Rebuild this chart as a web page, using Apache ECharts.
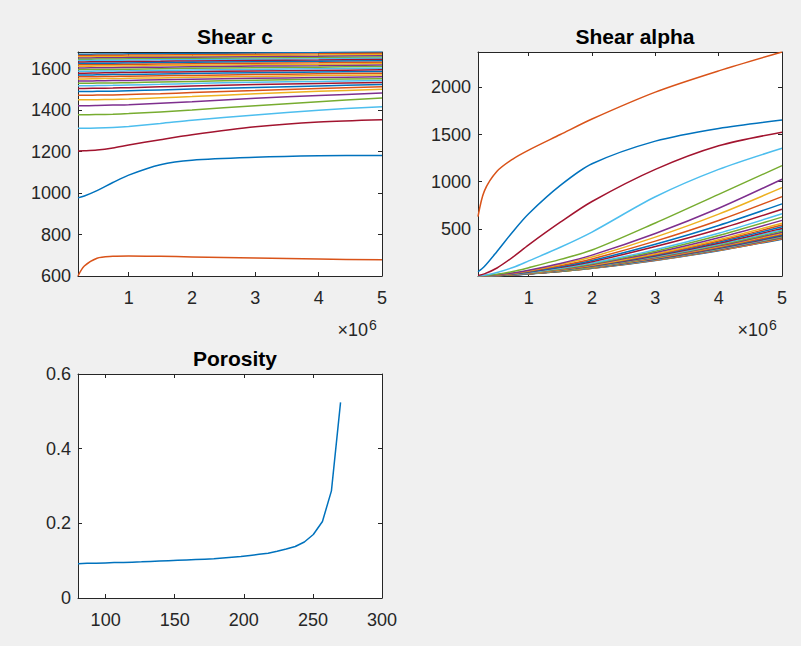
<!DOCTYPE html>
<html><head><meta charset="utf-8">
<script src="https://cdn.jsdelivr.net/npm/echarts@6/dist/echarts.min.js"></script>
<style>html,body{margin:0;padding:0;background:#f0f0f0;}#c{width:801px;height:646px;}</style>
</head><body><div id="c"></div>
<script>
const shearX = [200000, 300000, 500000, 750000, 1000000, 1500000, 2000000, 3000000, 4000000, 5000000];
const shearXTicks = [1000000, 2000000, 3000000, 4000000, 5000000];
const shearCTicks = [600, 800, 1000, 1200, 1400, 1600];
const shearAlphaTicks = [500, 1000, 1500, 2000];
const porosityXTicks = [100, 150, 200, 250, 300];
const porosityYTicks = [0, 0.2, 0.4, 0.6];

const shearC = [
  [1670,1670,1671,1671,1672,1673,1674,1676,1678,1681],
  [1664,1664,1665,1665,1666,1667,1668,1670,1672,1675],
  [1658,1658,1659,1659,1660,1661,1662,1664,1666,1669],
  [1652,1652,1653,1653,1654,1655,1656,1658,1660,1663],
  [1646,1646,1647,1647,1648,1649,1650,1652,1654,1657],
  [1640,1640,1641,1641,1642,1643,1644,1646,1648,1651],
  [1633,1633,1634,1634,1635,1636,1638,1640,1642,1645],
  [1626,1626,1627,1627,1628,1630,1631,1634,1636,1639],
  [1619,1619,1620,1620,1621,1623,1624,1627,1629,1632],
  [1612,1612,1613,1613,1614,1616,1617,1620,1622,1625],
  [1604,1604,1605,1605,1606,1608,1610,1613,1615,1618],
  [1596,1596,1597,1597,1598,1600,1602,1605,1608,1611],
  [1588,1588,1589,1589,1590,1592,1594,1597,1600,1603],
  [1579,1579,1580,1581,1582,1584,1586,1589,1592,1595],
  [1570,1570,1571,1572,1573,1575,1577,1581,1584,1587],
  [1561,1561,1562,1563,1564,1566,1568,1572,1576,1579],
  [1551,1551,1552,1553,1554,1556,1559,1563,1567,1570],
  [1541,1541,1542,1543,1544,1547,1550,1554,1558,1561],
  [1530,1530,1531,1532,1533,1536,1539,1545,1549,1552],
  [1518,1518,1519,1520,1522,1525,1529,1535,1539,1543],
  [1505,1505,1506,1507,1509,1513,1517,1524,1529,1534],
  [1490,1490,1491,1492,1494,1498,1502,1510,1517,1524],
  [1472,1472,1473,1474,1476,1480,1485,1495,1505,1513],
  [1450,1450,1451,1452,1454,1460,1466,1479,1491,1501],
  [1422,1422,1423,1425,1427,1434,1441,1458,1471,1483],
  [1378,1378,1379,1381,1384,1392,1401,1422,1441,1459],
  [1313,1313,1314,1317,1322,1336,1352,1377,1400,1417],
  [1203,1204,1208,1218,1232,1258,1282,1320,1343,1354],
  [977,986,1012,1051,1087,1137,1159,1173,1180,1182],
  [600,648,686,695,697,695,692,687,682,678]
];

const shearAlpha = [
  [0,1,5,12,22,48,81,165,268,390],
  [0,1,5,12,23,49,82,167,272,395],
  [0,1,5,12,23,50,83,169,275,400],
  [0,1,5,13,23,50,84,171,279,406],
  [0,1,5,13,24,51,86,174,284,413],
  [0,1,5,13,24,52,87,177,289,420],
  [0,1,5,13,24,53,89,180,294,427],
  [0,1,5,13,25,54,90,184,299,435],
  [0,1,5,14,25,55,92,187,305,444],
  [0,1,5,14,26,56,94,192,312,454],
  [0,1,6,14,27,58,97,196,320,465],
  [0,1,6,15,27,59,99,201,328,477],
  [0,1,6,15,28,61,102,207,337,490],
  [0,1,6,16,29,63,105,213,347,505],
  [0,1,6,16,30,65,109,220,359,522],
  [0,1,6,17,31,67,112,228,372,540],
  [0,1,7,17,32,69,116,236,385,560],
  [0,1,7,18,34,73,123,249,406,590],
  [0,1,7,19,36,77,130,263,429,624],
  [0,1,8,20,38,82,137,279,454,660],
  [0,1,8,23,42,92,152,312,496,708],
  [0,2,9,24,46,99,164,337,536,765],
  [0,2,10,27,51,109,181,370,589,842],
  [0,2,11,30,56,122,201,412,656,937],
  [0,2,12,33,62,133,221,451,718,1026],
  [0,4,18,47,88,176,275,562,866,1170],
  [0,8,38,90,160,305,466,840,1130,1354],
  [5,22,85,200,330,570,790,1130,1380,1524],
  [45,100,260,470,660,960,1190,1430,1565,1654],
  [630,900,1110,1240,1335,1500,1665,1950,2175,2375]
];

const porosityX = [80.0,86.6,93.1,99.7,106.2,112.8,119.3,125.9,132.4,139.0,145.5,152.1,158.6,165.2,171.7,178.3,184.8,191.4,197.9,204.5,211.0,217.6,224.1,230.7,237.2,243.8,250.3,256.9,263.4,270.0];
const porosity = [0.092,0.093,0.093,0.094,0.095,0.095,0.096,0.097,0.098,0.099,0.100,0.101,0.102,0.103,0.104,0.105,0.107,0.109,0.111,0.114,0.117,0.120,0.125,0.131,0.138,0.150,0.170,0.205,0.287,0.524];

const titles = ['Shear c', 'Shear alpha', 'Porosity'];
const colorOrder = ['#0072BD','#D95319','#EDB120','#7E2F8E','#77AC30','#4DBEEE','#A2142F'];

const FONT = '"Liberation Sans", Arial, Helvetica, sans-serif';
const INK = '#262626';

const grids = [
  {left: 78, top: 52, width: 304, height: 224},
  {left: 478, top: 52, width: 304, height: 224},
  {left: 78, top: 374, width: 304, height: 224}
];

function axisCommon() {
  return {
    axisLine: {show: true, onZero: false, lineStyle: {color: INK, width: 1}},
    splitLine: {show: false}
  };
}
function xAxes(gi, min, max, ticks, fmt) {
  return [
    Object.assign(axisCommon(), {
      type: 'value', gridIndex: gi, position: 'bottom', min: min, max: max,
      axisTick: {show: true, inside: true, length: 4, customValues: ticks, lineStyle: {color: INK}},
      axisLabel: {show: true, customValues: ticks, formatter: fmt, margin: 13, fontSize: 18, fontFamily: FONT, color: INK}
    }),
    Object.assign(axisCommon(), {
      type: 'value', gridIndex: gi, position: 'top', min: min, max: max,
      axisTick: {show: true, inside: true, length: 4, customValues: ticks, lineStyle: {color: INK}},
      axisLabel: {show: false}
    })
  ];
}
function yAxes(gi, min, max, ticks, fmt) {
  return [
    Object.assign(axisCommon(), {
      type: 'value', gridIndex: gi, position: 'left', min: min, max: max,
      axisTick: {show: true, inside: true, length: 4, customValues: ticks, lineStyle: {color: INK}},
      axisLabel: {show: true, customValues: ticks, formatter: fmt, margin: 7, fontSize: 18, fontFamily: FONT, color: INK}
    }),
    Object.assign(axisCommon(), {
      type: 'value', gridIndex: gi, position: 'right', min: min, max: max,
      axisTick: {show: true, inside: true, length: 4, customValues: ticks, lineStyle: {color: INK}},
      axisLabel: {show: false}
    })
  ];
}

const xAxis = [].concat(
  xAxes(0, 200000, 5000000, shearXTicks, v => String(v / 1000000)),
  xAxes(1, 200000, 5000000, shearXTicks, v => String(v / 1000000)),
  xAxes(2, 80, 300, porosityXTicks, v => String(v))
);
const yAxis = [].concat(
  yAxes(0, 600, 1681, shearCTicks, v => String(v)),
  yAxes(1, 0, 2375, shearAlphaTicks, v => String(v)),
  yAxes(2, 0, 0.6, porosityYTicks, v => (v === 0 ? '0' : v.toFixed(1)))
);

const series = [];
shearC.forEach((vals, i) => {
  series.push({
    type: 'line', xAxisIndex: 0, yAxisIndex: 0, showSymbol: false, smooth: 0.3,
    lineStyle: {width: 1.5, color: colorOrder[i % 7]}, itemStyle: {color: colorOrder[i % 7]},
    data: shearX.map((x, k) => [x, vals[k]]), silent: true
  });
});
shearAlpha.forEach((vals, i) => {
  series.push({
    type: 'line', xAxisIndex: 2, yAxisIndex: 2, showSymbol: false, smooth: 0.3,
    lineStyle: {width: 1.5, color: colorOrder[i % 7]}, itemStyle: {color: colorOrder[i % 7]},
    data: shearX.map((x, k) => [x, vals[k]]), silent: true
  });
});
series.push({
  type: 'line', xAxisIndex: 4, yAxisIndex: 4, showSymbol: false,
  lineStyle: {width: 1.5, color: colorOrder[0]}, itemStyle: {color: colorOrder[0]},
  data: porosityX.map((x, k) => [x, porosity[k]]), silent: true
});

const titleCfg = titles.map((t, i) => ({
  text: t, left: grids[i].left + grids[i].width / 2, top: grids[i].top - 31, textAlign: 'center',
  textStyle: {fontFamily: FONT, fontSize: 21, fontWeight: 'bold', color: '#000'}
}));

function expo(xRight, yBase) {
  return [
    {type: 'text', x: xRight - 13, y: yBase, style: {text: '\u00d710', align: 'right', verticalAlign: 'bottom', font: '18px ' + FONT, fill: INK}},
    {type: 'text', x: xRight - 12, y: yBase - 7, style: {text: '6', align: 'left', verticalAlign: 'bottom', font: '14px ' + FONT, fill: INK}}
  ];
}

const chart = echarts.init(document.getElementById('c'), null, {renderer: 'svg'});
chart.setOption({
  backgroundColor: '#f0f0f0',
  animation: false,
  title: titleCfg,
  grid: grids.map(g => Object.assign({show: true, backgroundColor: '#ffffff', borderWidth: 0}, g)),
  xAxis: xAxis,
  yAxis: yAxis,
  series: series,
  graphic: expo(381, 339).concat(expo(781, 339))
});
</script></body></html>
